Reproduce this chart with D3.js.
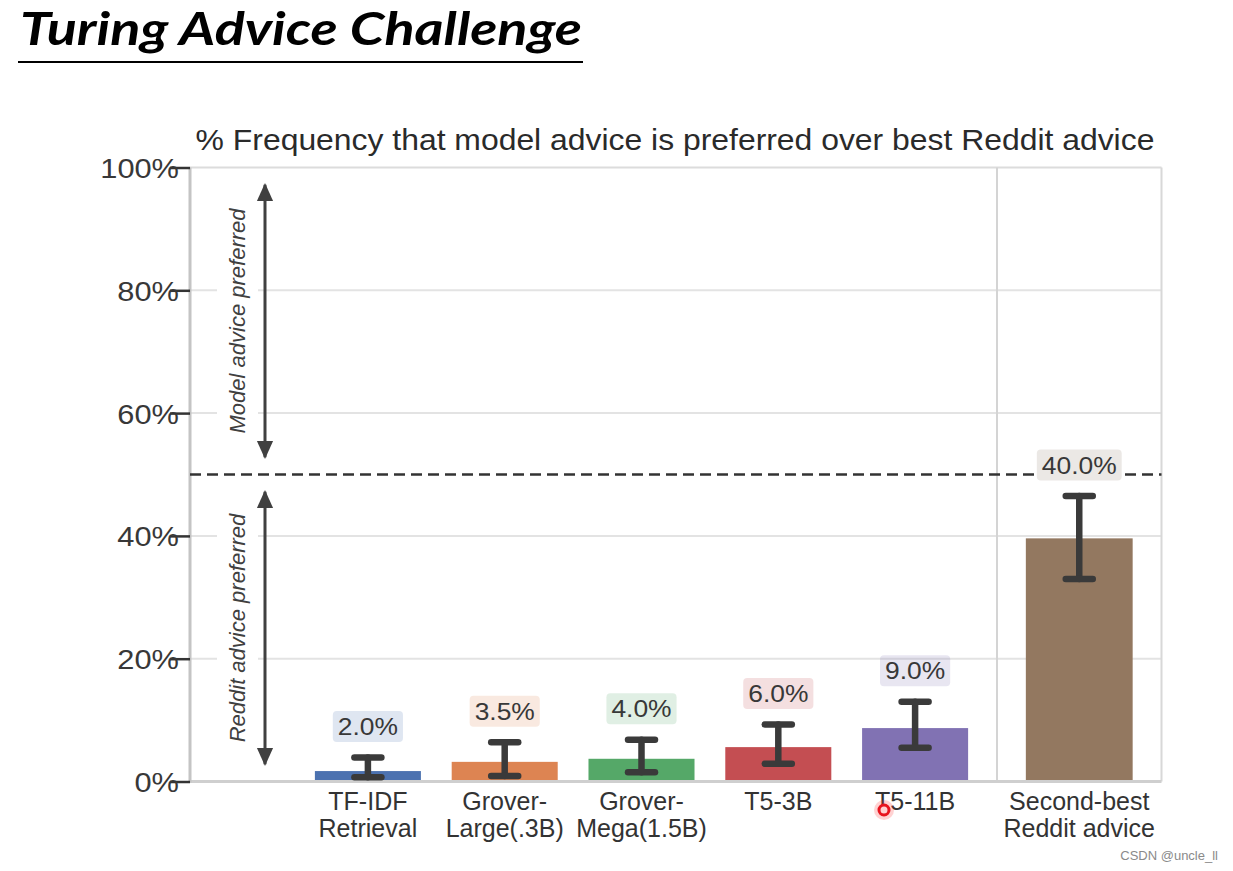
<!DOCTYPE html>
<html>
<head>
<meta charset="utf-8">
<script src="https://cdn.jsdelivr.net/npm/d3@7"></script>
<style>
  html, body { margin: 0; padding: 0; background: #fff; }
  svg { display: block; }
</style>
</head>
<body>
<svg id="chart" width="1233" height="871"></svg>
<script>
// ---------------- data ----------------
const models = ["TF-IDF Retrieval", "Grover-Large(.3B)", "Grover-Mega(1.5B)", "T5-3B", "T5-11B"];
const modelLabelLines = [["TF-IDF", "Retrieval"], ["Grover-", "Large(.3B)"], ["Grover-", "Mega(1.5B)"], ["T5-3B"], ["T5-11B"]];
const reference = ["Second-best Reddit advice"];
const referenceLabelLines = [["Second-best", "Reddit advice"]];
const values = [1.7, 3.2, 3.7, 5.6, 8.7, 39.6];
const errLow = [0.7, 0.9, 1.5, 2.9, 5.5, 33.0];
const errHigh = [3.9, 6.4, 6.8, 9.3, 13.0, 46.5];
const valueLabels = ["2.0%", "3.5%", "4.0%", "6.0%", "9.0%", "40.0%"];
const yTicks = [0, 20, 40, 60, 80, 100];
const colors = ["#4C72B0", "#DD8452", "#55A868", "#C44E52", "#8172B3", "#937860"];
const threshold = 50;
const arrowSpans = [[97.5, 52.5], [47.5, 2.5]];
const arrowTexts = ["Model advice preferred", "Reddit advice preferred"];

(function () {
// ---------------- layout ----------------
const svg = d3.select("#chart");
const pL = 190, pR = 1161.5, pT = 167.5, pB = 781.5, sep = 997;
const FONT = "'Liberation Sans', Arial, Helvetica, sans-serif";
const sx = 1.1;

const y = d3.scaleLinear().domain([0, 100]).range([pB, pT]);
const xL = d3.scaleBand().domain(models).range([299.5, 983.5]).paddingInner(0.225).paddingOuter(0.1125);
const xR = d3.scaleBand().domain(reference).range([sep, pR]).paddingInner(0).paddingOuter(0.27);

const allCats = models.concat(reference);
const allLines = modelLabelLines.concat(referenceLabelLines);
const xPos = c => (models.includes(c) ? xL(c) : xR(c));
const bw = c => (models.includes(c) ? xL.bandwidth() : xR.bandwidth());
const rows = allCats.map((c, i) => ({
  c, i, v: values[i], lo: errLow[i], hi: errHigh[i], lab: valueLabels[i], col: colors[i], lines: allLines[i]
}));

// ---------------- main title ----------------
const mt = svg.append("text")
  .attr("x", 20).attr("y", 45)
  .attr("font-family", "Lato, 'Open Sans', sans-serif")
  .attr("font-weight", "bold").attr("font-style", "italic")
  .attr("font-size", 46).attr("fill", "#000")
  .text("Turing Advice Challenge");
mt.attr("textLength", 562).attr("lengthAdjust", "spacingAndGlyphs");
svg.append("line").attr("x1", 18).attr("x2", 583).attr("y1", 62).attr("y2", 62)
  .attr("stroke", "#000").attr("stroke-width", 2);

// ---------------- subplot title ----------------
svg.append("text")
  .attr("transform", `translate(${(197 + 1153) / 2},150) scale(${sx},1)`)
  .attr("text-anchor", "middle")
  .attr("font-family", FONT).attr("font-size", 29).attr("fill", "#2a2a2a")
  .text("% Frequency that model advice is preferred over best Reddit advice");

// ---------------- grid ----------------
const g = svg.append("g");
g.selectAll("line.grid").data(yTicks.filter(d => d > 0 && d < 100)).join("line")
  .attr("class", "grid")
  .attr("x1", pL).attr("x2", pR)
  .attr("y1", d => y(d)).attr("y2", d => y(d))
  .attr("stroke", "#e3e3e3").attr("stroke-width", 2);

// frame
g.append("line").attr("x1", pL).attr("x2", pR).attr("y1", pT).attr("y2", pT)
  .attr("stroke", "#dcdcdc").attr("stroke-width", 2);
g.append("line").attr("x1", pR).attr("x2", pR).attr("y1", pT).attr("y2", pB)
  .attr("stroke", "#d8d8d8").attr("stroke-width", 2);
g.append("line").attr("x1", sep).attr("x2", sep).attr("y1", pT).attr("y2", pB)
  .attr("stroke", "#d4d4d4").attr("stroke-width", 2);

// ---------------- arrows & annotation text ----------------
const defs = svg.append("defs");
["s", "e"].forEach(k => {
  defs.append("marker").attr("id", "arrow-" + k)
    .attr("viewBox", "0 0 10 10").attr("refX", 9).attr("refY", 5)
    .attr("markerUnits", "userSpaceOnUse").attr("markerWidth", 18).attr("markerHeight", 18)
    .attr("orient", "auto-start-reverse")
    .append("path").attr("d", "M0,0.5 L10,5 L0,9.5 Z").attr("fill", "#404040");
});
const ax = 265;
arrowSpans.forEach((s, i) => {
  const yc = (y(s[0]) + y(s[1])) / 2;
  g.append("rect").attr("x", 217).attr("y", yc - 124).attr("width", 41).attr("height", 248)
    .attr("fill", "#fff");
  g.append("text")
    .attr("transform", `translate(245,${yc}) rotate(-90)`)
    .attr("text-anchor", "middle")
    .attr("font-family", FONT).attr("font-style", "italic").attr("font-size", 22)
    .attr("fill", "#404040")
    .text(arrowTexts[i]);
  g.append("line").attr("x1", ax).attr("x2", ax)
    .attr("y1", y(s[0]) + 2).attr("y2", y(s[1]) - 2)
    .attr("stroke", "#404040").attr("stroke-width", 3)
    .attr("marker-start", "url(#arrow-s)").attr("marker-end", "url(#arrow-e)");
});

// ---------------- bars ----------------
g.selectAll("rect.bar").data(rows).join("rect")
  .attr("class", "bar")
  .attr("x", d => xPos(d.c)).attr("width", d => bw(d.c))
  .attr("y", d => y(d.v)).attr("height", d => y(0) - y(d.v))
  .attr("fill", d => d.col);

// bottom axis line
g.append("line").attr("x1", pL).attr("x2", pR).attr("y1", pB).attr("y2", pB)
  .attr("stroke", "#cfcfcf").attr("stroke-width", 3);
// left spine
g.append("line").attr("x1", pL).attr("x2", pL).attr("y1", pT).attr("y2", pB + 1)
  .attr("stroke", "#c4c4c4").attr("stroke-width", 3);

// threshold dashed line
g.append("line").attr("x1", pL).attr("x2", pR)
  .attr("y1", y(threshold)).attr("y2", y(threshold))
  .attr("stroke", "#333").attr("stroke-width", 2.5).attr("stroke-dasharray", "11,6");

// error bars
const eb = g.selectAll("g.err").data(rows).join("g").attr("class", "err")
  .attr("transform", d => `translate(${xPos(d.c) + bw(d.c) / 2},0)`);
const ebStyle = s => s.attr("stroke", "#3a3a3a").attr("stroke-width", 6.5).attr("stroke-linecap", "round");
eb.append("line").attr("x1", 0).attr("x2", 0).attr("y1", d => y(d.hi)).attr("y2", d => y(d.lo)).call(ebStyle);
eb.append("line").attr("x1", -13.5).attr("x2", 13.5).attr("y1", d => y(d.hi)).attr("y2", d => y(d.hi)).call(ebStyle);
eb.append("line").attr("x1", -13.5).attr("x2", 13.5).attr("y1", d => y(d.lo)).attr("y2", d => y(d.lo)).call(ebStyle);

// value labels with boxes
const lab = g.selectAll("g.vlab").data(rows).join("g").attr("class", "vlab")
  .attr("transform", d => `translate(${xPos(d.c) + bw(d.c) / 2},${y(d.hi) - 31})`);
const labBox = lab.append("rect").attr("fill", d => d.col).attr("fill-opacity", 0.18)
  .attr("rx", 4).attr("ry", 4);
const labText = lab.append("text")
  .attr("transform", `scale(${sx},1)`)
  .attr("text-anchor", "middle").attr("dy", "0.36em")
  .attr("font-family", FONT).attr("font-size", 24).attr("fill", "#383838")
  .text(d => d.lab);
labText.each(function (d, i) {
  const w = this.getComputedTextLength() * sx + 10;
  d3.select(labBox.nodes()[i]).attr("x", -w / 2).attr("y", -15.5).attr("width", w).attr("height", 31);
});
// reference label box is opaque so the dashed line is hidden behind it
lab.filter(d => reference.includes(d.c)).select("rect").attr("fill", "#ebe8e5").attr("fill-opacity", 1);

// ---------------- y axis ----------------
const yAxis = svg.append("g").attr("transform", `translate(${pL},0)`)
  .call(d3.axisLeft(y).tickValues(yTicks).tickFormat(d => d + "%").tickSize(20));
yAxis.select(".domain").remove();
yAxis.selectAll(".tick line").attr("stroke", "#333").attr("stroke-width", 2.5);
yAxis.selectAll(".tick text")
  .attr("x", null).attr("dy", "0.36em")
  .attr("transform", `translate(-11,0) scale(${sx},1)`)
  .attr("font-family", FONT).attr("font-size", 28).attr("fill", "#383838");

// ---------------- category labels ----------------
const cl = svg.selectAll("text.cat").data(rows).join("text").attr("class", "cat")
  .attr("text-anchor", "middle")
  .attr("font-family", FONT).attr("font-size", 25).attr("fill", "#333");
cl.selectAll("tspan").data(d => d.lines.map(t => ({ t, x: xPos(d.c) + bw(d.c) / 2 }))).join("tspan")
  .attr("x", d => d.x).attr("y", (d, i) => 810 + i * 27)
  .text(d => d.t);

// ---------------- cursor dot & watermark ----------------
svg.append("circle").attr("cx", 884).attr("cy", 810).attr("r", 10).attr("fill", "#ff3030").attr("fill-opacity", 0.22);
svg.append("circle").attr("cx", 884).attr("cy", 810).attr("r", 5)
  .attr("fill", "#ffd0d0").attr("stroke", "#e8141e").attr("stroke-width", 3);

svg.append("text").attr("x", 1218).attr("y", 860).attr("text-anchor", "end")
  .attr("font-family", FONT).attr("font-size", 13).attr("fill", "#8a8a8a")
  .text("CSDN @uncle_ll");
})();
</script>
</body>
</html>
